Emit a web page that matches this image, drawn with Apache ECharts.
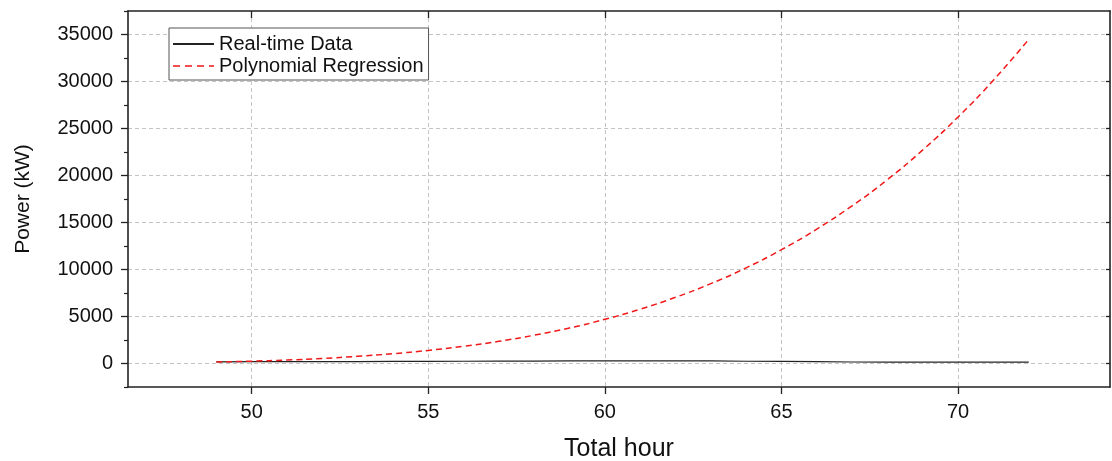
<!DOCTYPE html>
<html>
<head>
<meta charset="utf-8">
<script src="https://cdn.jsdelivr.net/npm/echarts@6/dist/echarts.min.js"></script>
<style>
html,body{margin:0;padding:0;background:#fff;}
#chart{width:1112px;height:461px;}
</style>
</head>
<body>
<div id="chart"></div>
<script>
// ---- data ----
const hours = [49,50,51,52,53,54,55,56,57,58,59,60,61,62,63,64,65,66,67,68,69,70,71,72];
const realTimePower = [180,190,200,210,210,220,230,240,250,260,270,280,280,280,280,240,220,200,160,150,150,150,140,140];
const regressionPower = [160,250,370,540,760,1040,1390,1830,2360,3010,3780,4700,5780,7040,8500,10180,12110,14300,16780,19570,22720,26230,30140,34480];
const xTicks = [50,55,60,65,70];
const yTicks = [0,5000,10000,15000,20000,25000,30000,35000];
const seriesNames = ['Real-time Data','Polynomial Regression'];

const FONT = 'Liberation Sans, Arial, sans-serif';
const axisColor = '#222';
const gridLine = {show:true, lineStyle:{color:'#c4c4c4', type:[4,3], width:1}};
const plain = v => String(v);

const chart = echarts.init(document.getElementById('chart'), null, {renderer:'canvas'});
const realData = hours.map((h,i)=>[h, realTimePower[i]]);
const regData = hours.map((h,i)=>[h, regressionPower[i]]);

chart.setOption({
  animation:false,
  backgroundColor:'#fff',
  grid:{left:128, right:2, top:11, bottom:74, containLabel:false, outerBoundsMode:'none'},
  legend:{
    orient:'vertical', left:169, top:28,
    data:[
      {name:seriesNames[0]},
      {name:seriesNames[1], lineStyle:{type:[7,5], width:1.5}}
    ],
    itemWidth:41, itemHeight:14, itemGap:2,
    padding:[6,5,4,3],
    borderColor:'#555', borderWidth:1, borderRadius:0,
    backgroundColor:'#fff',
    itemStyle:{color:'rgba(0,0,0,0)', borderColor:'rgba(0,0,0,0)', borderWidth:0, opacity:0},
    textStyle:{fontFamily:FONT, fontSize:20, color:'#111', lineHeight:20}
  },
  xAxis:[
    {
      type:'value', position:'bottom', min:46.5, max:74.3,
      name:'Total hour', nameLocation:'middle', nameGap:50,
      nameTextStyle:{fontFamily:FONT, fontSize:25, color:'#111'},
      axisLine:{show:true, onZero:false, lineStyle:{color:axisColor, width:1.6}},
      axisTick:{show:true, inside:false, length:7, customValues:xTicks, lineStyle:{color:axisColor, width:1.3}},
      axisLabel:{show:true, customValues:xTicks, formatter:plain, margin:15, fontFamily:FONT, fontSize:20, color:'#111'},
      splitLine:gridLine
    },
    {
      type:'value', position:'top', min:46.5, max:74.3,
      axisLine:{show:true, onZero:false, lineStyle:{color:axisColor, width:1.6}},
      axisTick:{show:true, inside:true, length:7, customValues:xTicks, lineStyle:{color:axisColor, width:1.3}},
      axisLabel:{show:false},
      splitLine:{show:false}
    }
  ],
  yAxis:[
    {
      type:'value', position:'left', min:-2500, max:37500,
      name:'Power (kW)', nameLocation:'middle', nameGap:94, nameRotate:90,
      nameTextStyle:{fontFamily:FONT, fontSize:21, color:'#111'},
      axisLine:{show:true, onZero:false, lineStyle:{color:axisColor, width:1.6}},
      axisTick:{show:true, inside:false, length:7, customValues:yTicks, lineStyle:{color:axisColor, width:1.3}},
      axisLabel:{show:true, customValues:yTicks, formatter:plain, margin:15, fontFamily:FONT, fontSize:20, color:'#111'},
      splitLine:gridLine
    },
    {
      type:'value', position:'left', min:-2500, max:37500, interval:5000,
      axisLine:{show:false},
      axisTick:{show:true, inside:false, length:4, lineStyle:{color:axisColor, width:1.2}},
      axisLabel:{show:false},
      splitLine:{show:false}
    },
    {
      type:'value', position:'right', min:-2500, max:37500,
      axisLine:{show:true, onZero:false, lineStyle:{color:axisColor, width:1.6}},
      axisTick:{show:true, inside:true, length:4, customValues:yTicks, lineStyle:{color:axisColor, width:1.3}},
      axisLabel:{show:false},
      splitLine:{show:false}
    }
  ],
  series:[
    {
      name:seriesNames[0], type:'line', xAxisIndex:0, yAxisIndex:0,
      data:realData, symbol:'none', smooth:false,
      lineStyle:{color:'#222', width:1.2},
      itemStyle:{color:'#222'}, z:3
    },
    {
      name:seriesNames[1], type:'line', xAxisIndex:0, yAxisIndex:0,
      data:regData, symbol:'none', smooth:true,
      lineStyle:{color:'#f01818', width:1.5, type:[6,4]},
      itemStyle:{color:'#f01818'}, z:4
    }
  ]
});
</script>
</body>
</html>
